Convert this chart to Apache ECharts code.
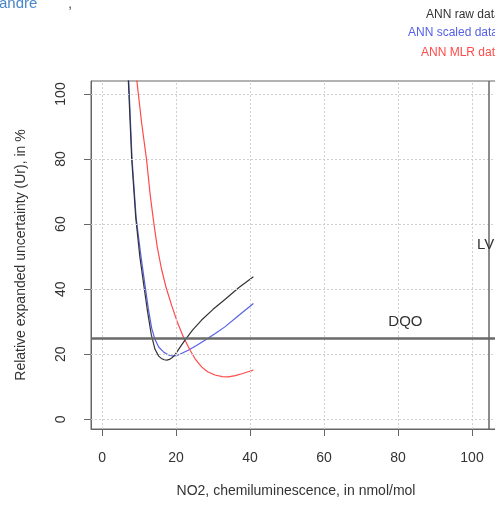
<!DOCTYPE html>
<html>
<head>
<meta charset="utf-8">
<script src="https://cdn.jsdelivr.net/npm/echarts@6/dist/echarts.min.js"></script>
<style>
html,body{margin:0;padding:0;background:#fff;overflow:hidden;}
#chart{width:495px;height:507px;}
</style>
</head>
<body>
<div id="chart"></div>
<script>
// ---- data ----
const xTicks = [0, 20, 40, 60, 80, 100];
const yTicks = [0, 20, 40, 60, 80, 100];
const dqoValue = 25;
const lvValue = 104.6;

const rawX = [6.6, 7.1, 8.0, 9.1, 10.2, 11.3, 12.3, 13.3, 14.3, 15.3, 16.0, 16.8, 17.5, 18.2, 18.9, 19.7, 21.0, 22.4, 24.5, 26.9, 30.0, 33.2, 37.0, 40.9];
const rawY = [118, 104, 80, 62, 50, 41, 33, 26, 21.5, 19.4, 18.7, 18.3, 18.2, 18.4, 18.9, 19.8, 22.0, 24.3, 27.5, 30.5, 33.8, 36.8, 40.5, 43.8];

const scaledX = [6.7, 7.2, 8.1, 9.2, 10.4, 11.5, 12.5, 13.4, 14.3, 15.3, 16.6, 17.4, 18.3, 19.3, 20.2, 21.0, 23.3, 25.5, 27.8, 30.5, 33.2, 37.0, 40.9];
const scaledY = [118, 104, 80, 62, 51, 42, 34, 28, 24.5, 22.2, 20.7, 20.1, 19.6, 19.4, 19.6, 20.0, 21.2, 22.7, 24.3, 26.3, 28.4, 32.0, 35.6];

const mlrX = [8.8, 9.4, 10.7, 12.0, 13.0, 13.9, 14.9, 16.0, 17.3, 18.8, 20.3, 22.0, 23.8, 25.3, 26.9, 28.5, 30.5, 32.5, 34.1, 36.0, 37.8, 39.5, 40.9];
const mlrY = [115, 104, 91, 80, 69, 61, 53, 46.5, 40.5, 35.0, 30.0, 25.2, 21.2, 18.3, 16.1, 14.6, 13.6, 13.1, 13.0, 13.4, 14.0, 14.6, 15.1];

const seriesNames = ['ANN raw data', 'ANN scaled data', 'ANN MLR data'];
const seriesColors = ['#333333', '#5560e6', '#ff4a4a'];

function pairs(xs, ys) { return xs.map((x, i) => [x, ys[i]]); }

const gridMarks = [];
xTicks.forEach(v => gridMarks.push({ xAxis: v }));
yTicks.forEach(v => gridMarks.push({ yAxis: v }));

const chart = echarts.init(document.getElementById('chart'), null, { renderer: 'canvas' });

const option = {
  animation: false,
  backgroundColor: '#ffffff',
  textStyle: { fontFamily: 'Liberation Sans, Arial, sans-serif' },
  grid: {
    left: 91, top: 81, width: 418, height: 348,
    outerBoundsMode: 'none', containLabel: false,
    show: true, borderColor: '#666', borderWidth: 1, backgroundColor: 'transparent'
  },
  legend: [0, 1, 2].map(i => ({
    data: [{ name: seriesNames[i], textStyle: { color: seriesColors[i] } }],
    left: [421, 403, 416][i],
    top: [9, 27, 47][i],
    padding: 0,
    itemWidth: 0, itemHeight: 0, itemGap: 0,
    icon: 'rect',
    selectedMode: false,
    textStyle: { fontSize: 12, fontFamily: 'Liberation Sans, Arial, sans-serif' }
  })),
  graphic: [
    { type: 'text', x: -1, y: 11, style: { text: 'andre', fill: '#4a86c8', verticalAlign: 'bottom', font: '15px Liberation Sans, Arial, sans-serif' } },
    { type: 'text', x: 68, y: 11, style: { text: ',', fill: '#555', verticalAlign: 'bottom', font: '15px Liberation Sans, Arial, sans-serif' } }
  ],
  xAxis: {
    type: 'value', min: -3, max: 110,
    name: 'NO2, chemiluminescence, in nmol/mol',
    nameLocation: 'middle', nameGap: 55,
    nameTextStyle: { fontSize: 14, color: '#333', padding: [0, 8, 0, 0] },
    axisLine: { show: true, onZero: false, lineStyle: { color: '#666' } },
    axisTick: { show: true, length: 7, customValues: xTicks, lineStyle: { color: '#666' } },
    axisLabel: { customValues: xTicks, margin: 22, fontSize: 14, color: '#333' },
    splitLine: { show: false }
  },
  yAxis: {
    type: 'value', min: -3, max: 104,
    name: 'Relative expanded uncertainty (Ur), in %',
    nameLocation: 'middle', nameGap: 63, nameRotate: 90,
    nameTextStyle: { fontSize: 14, color: '#333' },
    axisLine: { show: true, onZero: false, lineStyle: { color: '#666' } },
    axisTick: { show: true, length: 7, customValues: yTicks, lineStyle: { color: '#666' } },
    axisLabel: { customValues: yTicks, margin: 23, fontSize: 14, color: '#333', rotate: 90 },
    splitLine: { show: false }
  },
  series: [
    {
      name: seriesNames[0], type: 'line', data: pairs(rawX, rawY), showSymbol: false, smooth: false,
      color: seriesColors[0], lineStyle: { width: 1.2, color: seriesColors[0] }, clip: true, z: 4,
      markLine: {
        silent: true, symbol: 'none', label: { show: false },
        lineStyle: { color: '#d0d0d0', type: [2, 2], width: 1 },
        data: gridMarks
      }
    },
    {
      name: seriesNames[1], type: 'line', data: pairs(scaledX, scaledY), showSymbol: false, smooth: false,
      color: seriesColors[1], lineStyle: { width: 1.2, color: seriesColors[1] }, clip: true, z: 3,
      markLine: {
        silent: true, symbol: 'none', label: { show: false },
        data: [
          { yAxis: dqoValue, lineStyle: { color: '#6a6a6a', width: 2.5, type: 'solid' } },
          { xAxis: lvValue, lineStyle: { color: '#666', width: 1.5, type: 'solid' } }
        ]
      }
    },
    {
      name: seriesNames[2], type: 'line', data: pairs(mlrX, mlrY), showSymbol: false, smooth: false,
      color: seriesColors[2], lineStyle: { width: 1.2, color: seriesColors[2] }, clip: true, z: 3,
      markPoint: {
        silent: true, symbol: 'circle', symbolSize: 0,
        label: { show: true, position: 'inside', fontSize: 15, color: '#333', formatter: p => p.name },
        data: [
          { name: 'DQO', coord: [82, 30] },
          { name: 'LV', coord: [103.7, 53.5] }
        ]
      }
    }
  ]
};
chart.setOption(option);
</script>
</body>
</html>
